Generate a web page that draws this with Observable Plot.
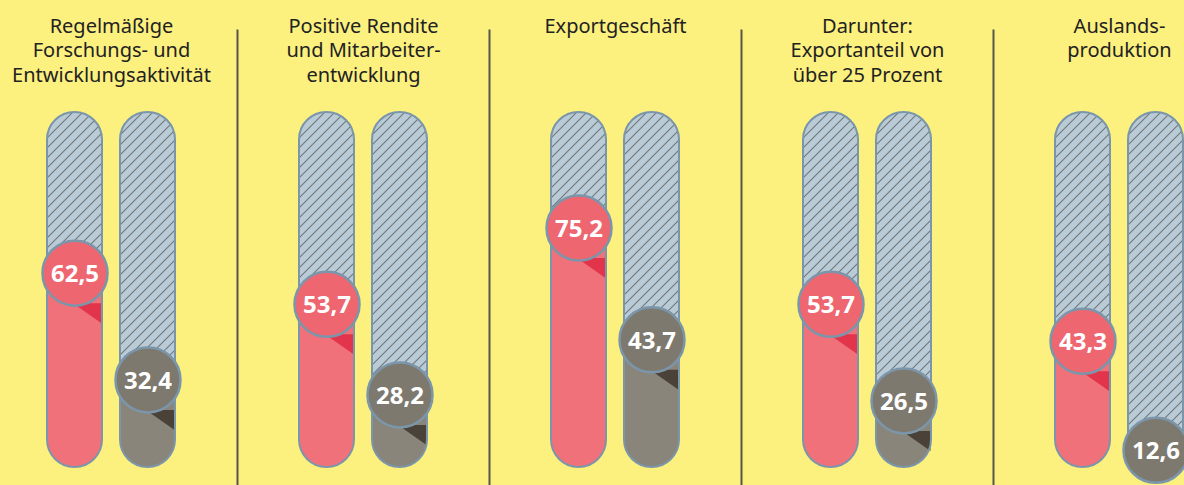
<!DOCTYPE html>
<html>
<head>
<meta charset="utf-8">
<script src="https://cdn.jsdelivr.net/npm/d3@7"></script>
<script src="https://cdn.jsdelivr.net/npm/@observablehq/plot@0.6"></script>
<style>
  html, body { margin: 0; padding: 0; background: #FCF07F; }
  #chart svg { display: block; }
</style>
</head>
<body>
<div id="chart"></div>
<script>
// ---- data ----
const categories = [
  "Regelmäßige\nForschungs- und\nEntwicklungsaktivität",
  "Positive Rendite\nund Mitarbeiter-\nentwicklung",
  "Exportgeschäft",
  "Darunter:\nExportanteil von\nüber 25 Prozent",
  "Auslands-\nproduktion"
];
const seriesKeys = ["rot", "grau"];
const valuesRot = [62.5, 53.7, 75.2, 53.7, 43.3];
const valuesGrau = [32.4, 28.2, 43.7, 26.5, 12.6];
const fullValue = 100;

// ---- styles ----
const palette = {
  rot:  { fill: "#F0717A", circle: "#EE6670", dark: "#E2344B" },
  grau: { fill: "#8A857B", circle: "#7E796F", dark: "#4A4238" }
};
const outline = "#7B96AA";

const rows = [];
categories.forEach((c, i) => {
  rows.push({ group: c, series: "rot", value: valuesRot[i] });
  rows.push({ group: c, series: "grau", value: valuesGrau[i] });
});
const titles = categories.map(c => ({ group: c }));

const fmt = v => v.toFixed(1).replace(".", ",");

const triSymbol = {
  draw(ctx) {
    ctx.moveTo(-2, 2);
    ctx.lineTo(26.5, 2);
    ctx.lineTo(26.5, 22);
    ctx.closePath();
  }
};

const fontFamily = "'Noto Sans', 'Open Sans', sans-serif";

const svg = Plot.plot({
  width: 1184,
  height: 485,
  margin: 0,
  style: { background: "#FCF07F", fontFamily },
  fx: { domain: categories, range: [-15, 1245], paddingInner: 0, paddingOuter: 0, axis: null, label: null },
  x: { domain: seriesKeys, range: [62, 190], paddingInner: 18 / 73, paddingOuter: 0, axis: null, label: null },
  y: { domain: [0, 100], range: [467, 112], axis: null },
  marks: [
    Plot.frame({ anchor: "left", stroke: "#57544C", strokeWidth: 2, insetTop: 30 }),
    // background pill (100 %)
    Plot.barY(rows, { fx: "group", x: "series", y1: 0, y2: () => fullValue, fill: "url(#hatch)", rx: 27.5 }),
    // value fill
    Plot.barY(rows, { fx: "group", x: "series", y1: 0, y2: "value", fill: d => palette[d.series].fill, rx: 27.5 }),
    // small dark triangle below bubble (hidden when the bubble reaches the bottom)
    Plot.dot(rows.filter(d => d.value > 20), { fx: "group", x: "series", y: "value", dy: 27.5 + 28, symbol: triSymbol, r: 1, fill: d => palette[d.series].dark, stroke: "none" }),
    // outline
    Plot.barY(rows, { fx: "group", x: "series", y1: 0, y2: () => fullValue, fill: "none", stroke: outline, strokeWidth: 2, rx: 27.5 }),
    // bubble
    Plot.dot(rows, { fx: "group", x: "series", y: "value", dy: 27.5, r: 32.5, fill: d => palette[d.series].circle, stroke: outline, strokeWidth: 2.5 }),
    Plot.text(rows, { fx: "group", x: "series", y: "value", dy: 28.5, text: d => fmt(d.value), fill: "white", fontWeight: "bold", fontSize: 24 }),
    // titles
    Plot.text(titles, { fx: "group", frameAnchor: "top", dy: 15, lineAnchor: "top", lineHeight: 1.22, text: "group", fontSize: 20, fill: "#222" })
  ]
});

d3.select(svg).insert("defs", ":first-child").html(
  `<pattern id="hatch" patternUnits="userSpaceOnUse" width="10" height="10">
     <rect width="10" height="10" fill="#B9CBD6"></rect>
     <path d="M-2,2 L2,-2 M0,10 L10,0 M8,12 L12,8" stroke="#737679" stroke-width="1.1"></path>
   </pattern>`
);

document.getElementById("chart").appendChild(svg);
</script>
</body>
</html>
